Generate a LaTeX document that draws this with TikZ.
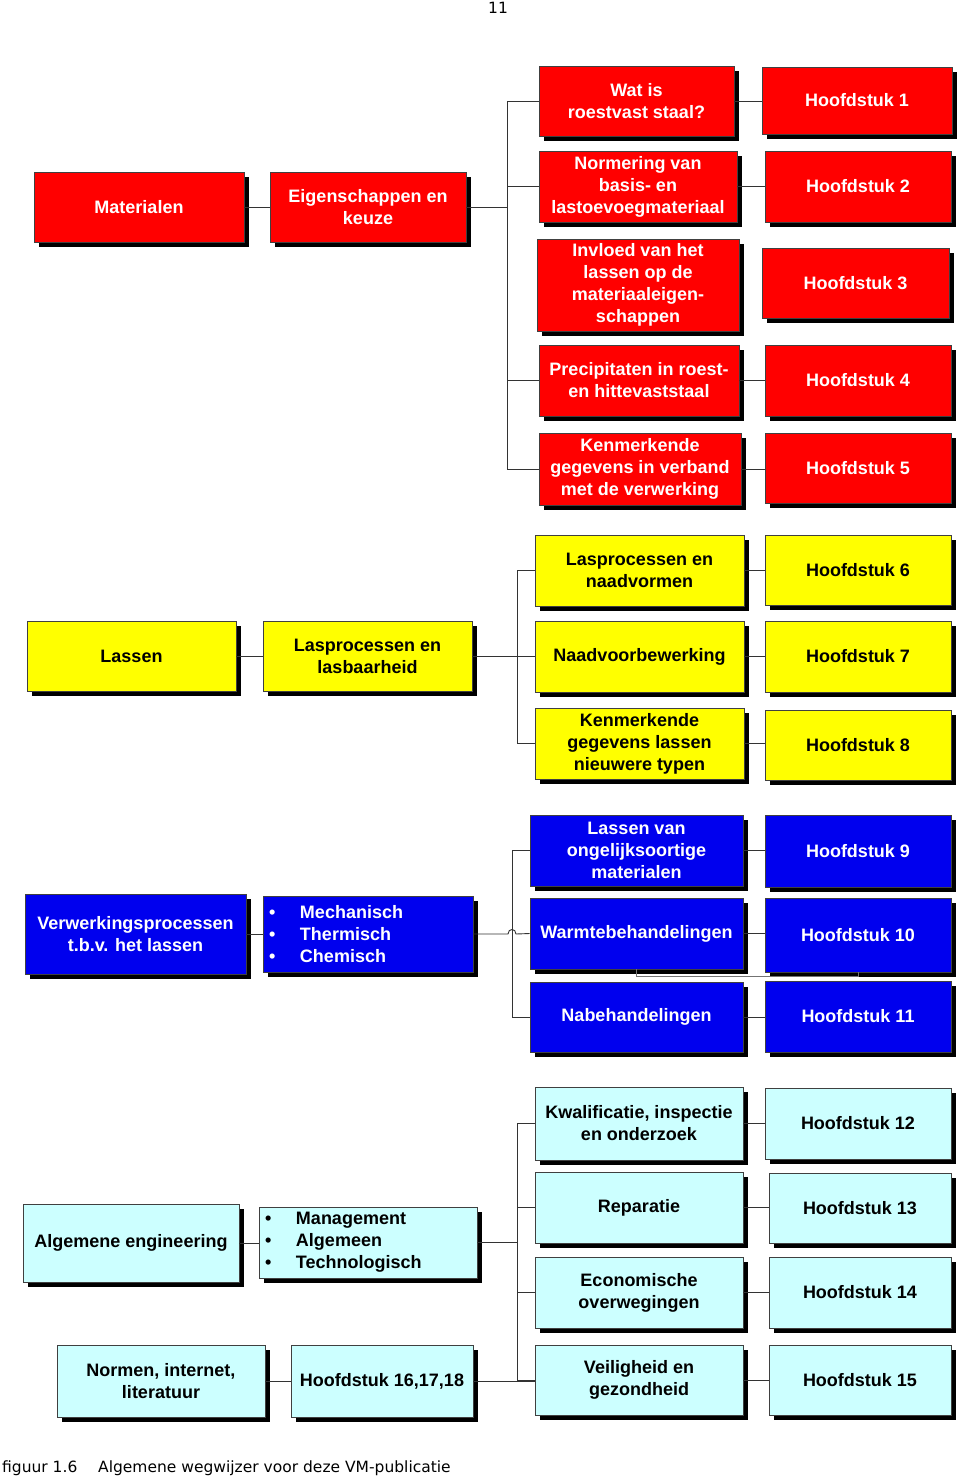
\documentclass[tikz,border=0pt]{standalone}
\usepackage{fontspec}
\setmainfont{Liberation Sans}
\newfontfamily\capfont{DejaVu Sans}
\usetikzlibrary{shadows}
\definecolor{boxred}{RGB}{255,0,0}
\definecolor{boxblue}{RGB}{0,0,238}
\definecolor{boxyellow}{RGB}{255,255,0}
\definecolor{boxcyan}{RGB}{204,255,255}
\newcommand{\mybox}[7]{\node[#6, minimum width={(#4)-(#2)}, minimum height={(#5)-(#3)}] (#1) at ({((#2)+(#4))/2},{((#3)+(#5))/2}) {#7};}
\newcommand{\bul}[1]{\makebox[31pt][l]{\textbullet}#1}
\tikzset{
  basebox/.style={draw=black!75, line width=0.6pt, align=center, inner sep=2pt,
    font=\bfseries\fontsize{18}{22}\selectfont,
    drop shadow={shadow xshift=5pt, shadow yshift=-5pt, fill=black, opacity=1}},
  redbox/.style={basebox, fill=boxred, text=white},
  bluebox/.style={basebox, fill=boxblue, text=white},
  yelbox/.style={basebox, fill=boxyellow, text=black},
  cyanbox/.style={basebox, fill=boxcyan, text=black},
  bulbox/.style={align=left, inner xsep=6pt},
  conn/.style={draw=black!80, line width=0.9pt},
  captext/.style={font=\capfont\fontsize{15.5}{18}\selectfont, inner sep=0pt}
}
\begin{document}
\begin{tikzpicture}[x=1pt,y=-1pt]
\useasboundingbox[fill=white] (0,0) rectangle (960,1478);

% page number and caption
\node[captext] (pnum) at (498,8) {11};
\node[captext, anchor=base west] (capa) at (2,1472) {figuur 1.6};
\node[captext, anchor=base west] (capb) at (98,1472) {Algemene wegwijzer voor deze VM-publicatie};

% ---------------- red group ----------------
\mybox{mat}{34}{172}{244}{242}{redbox}{Materialen}
\mybox{eig}{270}{172}{466}{242}{redbox}{Eigenschappen en\\keuze}
\mybox{wat}{539}{66}{734}{136}{redbox}{Wat is\\roestvast staal?}
\mybox{norm}{539}{151}{737}{222}{redbox}{Normering van\\basis- en\\lastoevoegmateriaal}
\mybox{inv}{537}{239}{739}{331}{redbox}{Invloed van het\\lassen op de\\materiaaleigen-\\schappen}
\mybox{prec}{539}{345}{739}{416}{redbox}{Precipitaten in roest-\\en hittevaststaal}
\mybox{kenr}{539}{433}{741}{505}{redbox}{Kenmerkende\\gegevens in verband\\met de verwerking}
\mybox{h1}{762}{67}{952}{134}{redbox}{Hoofdstuk 1}
\mybox{h2}{765}{151}{951}{222}{redbox}{Hoofdstuk 2}
\mybox{h3}{762}{248}{949}{318}{redbox}{Hoofdstuk 3}
\mybox{h4}{765}{345}{951}{416}{redbox}{Hoofdstuk 4}
\mybox{h5}{765}{433}{951}{503}{redbox}{Hoofdstuk 5}
\coordinate (rb) at (507,207);
\draw[conn] (mat.east) -- (eig.west);
\draw[conn] (eig.east) -- (eig.east -| rb);
\draw[conn] (wat.west) -- (wat.west -| rb) -- (kenr.west -| rb) -- (kenr.west);
\draw[conn] (norm.west) -- (norm.west -| rb);
\draw[conn] (prec.west) -- (prec.west -| rb);
\draw[conn] (wat.east) -- (wat.east -| h1.west);
\draw[conn] (norm.east) -- (norm.east -| h2.west);
\draw[conn] (prec.east) -- (prec.east -| h4.west);
\draw[conn] (kenr.east) -- (kenr.east -| h5.west);

% ---------------- yellow group ----------------
\mybox{las}{27}{621}{236}{691}{yelbox}{Lassen}
\mybox{lasb}{263}{621}{472}{691}{yelbox}{Lasprocessen en\\lasbaarheid}
\mybox{lpn}{535}{535}{744}{606}{yelbox}{Lasprocessen en\\naadvormen}
\mybox{nvb}{535}{621}{744}{692}{yelbox}{Naadvoorbewerking}
\mybox{kgl}{535}{708}{744}{779}{yelbox}{Kenmerkende\\gegevens lassen\\nieuwere typen}
\mybox{h6}{765}{535}{951}{605}{yelbox}{Hoofdstuk 6}
\mybox{h7}{765}{621}{951}{692}{yelbox}{Hoofdstuk 7}
\mybox{h8}{765}{710}{951}{780}{yelbox}{Hoofdstuk 8}
\coordinate (yb) at (517,656);
\draw[conn] (las.east) -- (lasb.west);
\draw[conn] (lasb.east) -- (lasb.east -| yb);
\draw[conn] (lpn.west) -- (lpn.west -| yb) -- (kgl.west -| yb) -- (kgl.west);
\draw[conn] (nvb.west) -- (nvb.west -| yb);
\draw[conn] (lpn.east) -- (lpn.east -| h6.west);
\draw[conn] (nvb.east) -- (nvb.east -| h7.west);
\draw[conn] (kgl.east) -- (kgl.east -| h8.west);

% ---------------- blue group ----------------
\mybox{verw}{25}{894}{246}{974}{bluebox}{Verwerkingsprocessen\\t.b.v. het lassen}
\mybox{mech}{263}{896}{473}{972}{bluebox, bulbox, text width=198pt}{\bul{Mechanisch}\\\bul{Thermisch}\\\bul{Chemisch}}
\mybox{lvo}{530}{815}{743}{886}{bluebox}{Lassen van\\ongelijksoortige\\materialen}
\mybox{warm}{530}{898}{743}{969}{bluebox}{Warmtebehandelingen}
\mybox{nabe}{530}{982}{743}{1052}{bluebox}{Nabehandelingen}
\mybox{h9}{765}{815}{951}{887}{bluebox}{Hoofdstuk 9}
\mybox{h10}{765}{898}{951}{972}{bluebox}{Hoofdstuk 10}
\mybox{h11}{765}{981}{951}{1052}{bluebox}{Hoofdstuk 11}
\coordinate (bb) at (512,934);
\coordinate (hopA) at (508,934);
\coordinate (hopB) at (516,934);
\draw[conn] (verw.east) -- (verw.east -| mech.west);
\draw[conn] (mech.east) -- (hopA) .. controls +(0,-6) and +(0,-6) .. (hopB) -- (warm.west);
\draw[conn] (lvo.west) -- (lvo.west -| bb) -- (nabe.west -| bb) -- (nabe.west);
\draw[conn] (lvo.east) -- (lvo.east -| h9.west);
\draw[conn] (warm.east) -- (warm.east -| h10.west);
\draw[conn] (nabe.east) -- (nabe.east -| h11.west);
\draw[conn, draw=black!55] (warm.south) -- ++(0,7) -| (h10.south);

% ---------------- light cyan group ----------------
\mybox{alg}{23}{1204}{239}{1282}{cyanbox}{Algemene engineering}
\mybox{man}{259}{1207}{477}{1278}{cyanbox, bulbox, text width=206pt}{\bul{Management}\\\bul{Algemeen}\\\bul{Technologisch}}
\mybox{nrm}{57}{1345}{265}{1417}{cyanbox}{Normen, internet,\\literatuur}
\mybox{h16}{291}{1345}{473}{1417}{cyanbox}{Hoofdstuk 16,17,18}
\mybox{kwa}{535}{1087}{743}{1160}{cyanbox}{Kwalificatie, inspectie\\en onderzoek}
\mybox{rep}{535}{1172}{743}{1243}{cyanbox}{Reparatie}
\mybox{eco}{535}{1257}{743}{1328}{cyanbox}{Economische\\overwegingen}
\mybox{vei}{535}{1345}{743}{1415}{cyanbox}{Veiligheid en\\gezondheid}
\mybox{h12}{765}{1088}{951}{1159}{cyanbox}{Hoofdstuk 12}
\mybox{h13}{769}{1173}{951}{1243}{cyanbox}{Hoofdstuk 13}
\mybox{h14}{769}{1257}{951}{1328}{cyanbox}{Hoofdstuk 14}
\mybox{h15}{769}{1345}{951}{1415}{cyanbox}{Hoofdstuk 15}
\coordinate (cb) at (517,1243);
\draw[conn] (alg.east) -- (alg.east -| man.west);
\draw[conn] (man.east) -- (man.east -| cb);
\draw[conn] (nrm.east) -- (nrm.east -| h16.west);
\draw[conn] (h16.east) -- (h16.east -| vei.west);
\draw[conn] (kwa.west) -- (kwa.west -| cb) -- (vei.west -| cb) -- (vei.west);
\draw[conn] (rep.west) -- (rep.west -| cb);
\draw[conn] (eco.west) -- (eco.west -| cb);
\draw[conn] (kwa.east) -- (kwa.east -| h12.west);
\draw[conn] (rep.east) -- (rep.east -| h13.west);
\draw[conn] (eco.east) -- (eco.east -| h14.west);
\draw[conn] (vei.east) -- (vei.east -| h15.west);
\end{tikzpicture}
\end{document}
